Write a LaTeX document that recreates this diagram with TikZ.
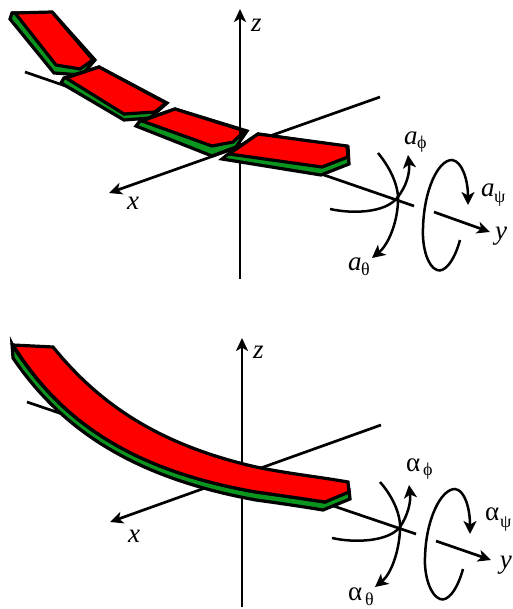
\documentclass[tikz,border=0pt]{standalone}
\usepackage{fontspec}
\setmainfont{Liberation Serif}
\usetikzlibrary{arrows.meta}
\definecolor{stripred}{RGB}{255,0,0}
\definecolor{stripgreen}{RGB}{10,150,30}
\tikzset{
  axis/.style={line width=2.7pt,black},
  axisarrow/.style={axis,-{Stealth[length=13pt,width=12pt,inset=3.5pt]}},
  turn/.style={line width=2.5pt,black},
  turnarrow/.style={turn,-{Stealth[length=13pt,width=13pt,inset=3.5pt]}},
  redface/.style={fill=stripred,draw=black,line width=3.2pt,miter limit=6,line join=miter},
  greenface/.style={fill=stripgreen,draw=black,line width=3.2pt,miter limit=6,line join=miter},
  lab/.style={inner sep=0pt,font=\fontsize{27}{27}\selectfont\itshape},
  sub/.style={inner sep=0pt,font=\fontsize{18}{18}\selectfont},
  grk/.style={inner sep=0pt,font=\fontsize{27}{27}\selectfont}
}
\begin{document}
\begin{tikzpicture}[x=1pt,y=-1pt]
\useasboundingbox (0,0) rectangle (512,609);
\clip (0,0) rectangle (512,609);
% ---------- top panel axes
\draw[axisarrow] (380,97) -- (109,193);
\draw[axis] (25,72) -- (414,206);
\draw[axisarrow] (434,212) -- (490,232);
% segments 1-3
\draw[greenface] (10,19) -- (54,73) -- (82,75) -- (95,60) -- (53,13) -- (12,13) -- cycle;
\draw[redface] (15,13) -- (52,12) -- (93,60) -- (80,69) -- (56,65) -- cycle;
\draw[greenface] (61,83) -- (124,120) -- (150,118) -- (167,103) -- (99,67) -- (64,78) -- cycle;
\draw[redface] (66,78) -- (99,67) -- (166,103) -- (155,112) -- (124,114) -- cycle;
\draw[greenface] (136,126) -- (212,156) -- (236,147) -- (247,131) -- (175,109) -- (140,121) -- cycle;
\draw[redface] (142,121) -- (175,109) -- (245,131) -- (233,142) -- (212,146) -- cycle;
\draw[axisarrow] (240,279) -- (240,9);
% segment 4
\draw[greenface] (222,159) -- (321,175) -- (349,164) -- (348,147) -- (258,134) -- (227,155) -- cycle;
\draw[redface] (229,154) -- (258,134) -- (347,146) -- (348,157) -- (322,167) -- cycle;
% top panel rotation arrows
\draw[turnarrow] (378,153) .. controls (392,170) and (399,188) .. (398,202) .. controls (397,224) and (388,245) .. (372,258);
\draw[turnarrow] (330,209) .. controls (352,214) and (385,213) .. (397,198) .. controls (407,186) and (410,172) .. (408,155);
\draw[turnarrow] (460,240) .. controls (454,262) and (444,273) .. (437,270) .. controls (428,267) and (422,248) .. (423,228) .. controls (424,190) and (438,160) .. (452,160) .. controls (462,161) and (468,180) .. (468,205);
% top panel labels
\node[lab,anchor=base west] (zt) at (251,32) {z};
\node[lab,anchor=base west] (xt) at (127,210) {x};
\node[lab,anchor=base west] (yt) at (495,240) {y};
\node[lab,anchor=base west] (ap) at (404,145) {a};
\node[sub,anchor=base west] (app) at (417,149) {ϕ};
\node[lab,anchor=base west] (as) at (481,197) {a};
\node[sub,anchor=base west] (ass) at (494,203) {ψ};
\node[lab,anchor=base west] (at) at (348,270) {a};
\node[sub,anchor=base west] (att) at (361,275) {θ};
% ---------- bottom panel axes
\draw[axisarrow] (381,425) -- (110,522);
\draw[axis] (27,402) -- (416,534);
\draw[axisarrow] (436,541) -- (491,560);
\draw[axisarrow] (242,607) -- (242,338);
% ribbon
\draw[greenface] (12,344) -- (13,358)
   .. controls (60,427) and (130,477) .. (256,500)
   .. controls (285,504) and (305,507) .. (323,510)
   -- (350,499) -- (349,490) -- (325,502)
   .. controls (305,499) and (285,496) .. (256,492)
   .. controls (130,470) and (60,420) .. (13,346) -- cycle;
\draw[redface] (13,345) -- (53,347)
   .. controls (100,405) and (160,445) .. (256,467)
   .. controls (290,474) and (320,477) .. (348,482)
   -- (349,492) -- (325,502)
   .. controls (305,499) and (285,496) .. (256,492)
   .. controls (130,470) and (60,420) .. (13,345) -- cycle;
% bottom panel rotation arrows
\draw[turnarrow] (380,482) .. controls (394,498) and (401,516) .. (400,530) .. controls (399,552) and (391,574) .. (375,587);
\draw[turnarrow] (332,538) .. controls (354,543) and (388,542) .. (400,527) .. controls (408,515) and (411,502) .. (409,485);
\draw[turnarrow] (463,569) .. controls (457,591) and (447,602) .. (440,599) .. controls (431,596) and (424,577) .. (425,557) .. controls (426,519) and (441,489) .. (455,489) .. controls (465,490) and (470,509) .. (470,534);
% bottom panel labels
\node[lab,anchor=base west] (zb) at (253,358) {z};
\node[lab,anchor=base west] (xb) at (128,542) {x};
\node[lab,anchor=base east] (yb) at (512,568) {y};
\node[grk,anchor=base west] (bp) at (406,471) {α};
\node[sub,anchor=base west] (bpp) at (423,475) {ϕ};
\node[grk,anchor=base west] (bs) at (485,520) {α};
\node[sub,anchor=base west] (bss) at (500,527) {ψ};
\node[grk,anchor=base west] (bt) at (348,600) {α};
\node[sub,anchor=base west] (btt) at (365,605) {θ};
\end{tikzpicture}
\end{document}
